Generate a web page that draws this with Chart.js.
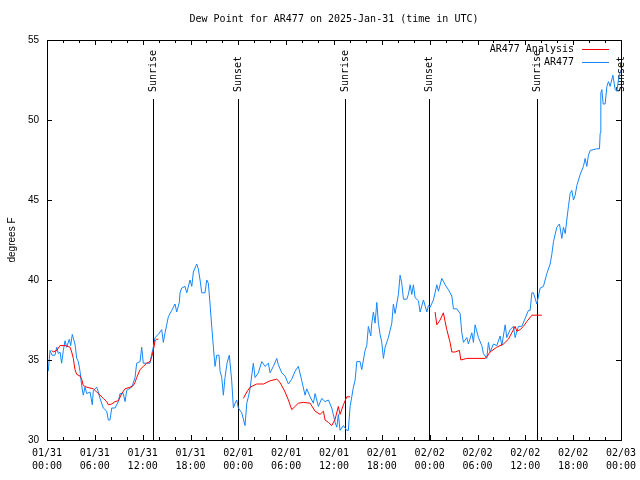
<!DOCTYPE html>
<html>
<head>
<meta charset="utf-8">
<title>Dew Point for AR477</title>
<script src="https://cdn.jsdelivr.net/npm/chart.js@4.4.1/dist/chart.umd.min.js"></script>
<style>
  html, body { margin: 0; padding: 0; background: #fff; }
</style>
</head>
<body>
<canvas id="grafica" width="640" height="480"></canvas>
<script>
// hours since 01/31 00:00 UTC
const obsHours = [0.16,0.38,0.63,1.0,1.22,1.42,1.63,1.84,2.05,2.26,2.47,2.8,2.97,3.17,3.51,3.73,3.93,4.14,4.35,4.55,4.77,4.98,5.4,5.68,5.81,6.24,6.44,6.65,7.06,7.49,7.69,7.9,8.12,8.53,8.95,9.16,9.57,9.79,10.0,10.63,11.04,11.25,11.67,11.88,12.08,12.5,12.92,13.14,13.34,13.55,13.96,14.39,14.59,14.81,15.22,15.65,16.06,16.27,16.6,16.69,16.9,17.31,17.53,17.94,18.16,18.36,18.78,18.98,19.2,19.41,19.82,20.04,20.24,20.45,20.66,20.87,21.08,21.29,21.58,21.71,21.92,22.12,22.33,22.58,22.87,23.17,23.38,23.59,23.8,24.0,24.43,24.84,25.06,25.26,25.47,25.88,26.1,26.51,26.94,27.35,27.77,27.98,28.39,28.82,29.02,29.45,29.86,30.28,30.7,31.12,31.53,31.96,32.37,32.58,33.0,33.41,33.63,34.04,34.47,34.88,35.3,35.72,36.14,36.35,36.55,36.76,37.18,37.6,37.8,38.02,38.23,38.43,38.65,38.86,39.27,39.48,39.9,40.11,40.31,40.61,40.74,40.94,41.15,41.37,41.57,41.78,41.99,42.2,42.41,42.82,43.25,43.45,43.66,44.08,44.29,44.5,44.71,45.13,45.33,45.55,45.76,45.96,46.17,46.59,46.8,47.22,47.65,47.84,48.06,48.47,48.9,49.1,49.52,49.94,50.35,50.78,50.98,51.4,51.82,52.03,52.24,52.66,52.86,53.29,53.49,53.7,54.12,54.54,54.74,55.17,55.37,55.58,56.0,56.42,56.84,57.05,57.47,57.67,58.09,58.51,58.72,59.13,59.56,59.97,60.39,60.6,60.82,61.02,61.44,61.86,62.27,62.7,63.11,63.32,63.53,63.95,64.28,64.58,64.78,65.0,65.2,65.41,65.62,65.83,66.04,66.25,66.46,66.88,67.29,67.5,67.71,67.92,68.13,68.97,69.3,69.39,69.47,69.6,69.76,70.01,70.23,70.43,70.64,70.98,71.27,71.48,71.68,71.9,72.0];
const obsValues = [34.3,35.6,35.3,35.3,35.8,35.4,35.5,34.8,35.6,36.2,35.8,36.3,35.9,36.6,36.0,35.1,34.9,34.3,33.4,32.8,33.3,32.9,33.0,32.2,33.1,33.3,33.0,32.6,32.0,31.8,31.25,31.25,32.0,32.0,32.4,32.9,32.9,32.4,33.1,33.3,33.9,34.8,34.9,35.8,34.8,34.8,34.8,35.4,35.8,36.4,36.6,36.9,36.1,36.7,37.7,38.1,38.5,38.0,38.6,39.2,39.5,39.6,39.2,40.0,39.6,40.5,41.0,40.7,40.0,39.2,39.2,40.0,39.8,38.5,37.1,35.8,34.6,35.3,35.3,34.3,33.9,32.8,33.9,34.8,35.3,33.7,32.0,32.3,32.5,32.0,31.7,30.9,32.3,32.7,33.2,34.8,33.9,34.2,34.9,34.6,34.8,34.2,34.6,35.1,34.7,34.2,34.0,33.5,33.8,34.3,34.6,33.7,32.8,33.2,32.7,32.3,32.9,32.1,32.6,32.4,32.5,32.0,31.1,30.8,31.6,30.6,30.9,30.6,30.6,32.1,32.7,33.3,33.75,34.9,34.9,34.4,35.6,35.9,37.1,36.5,37.3,38.0,37.3,38.6,37.3,36.6,36.1,35.1,35.8,36.4,37.3,38.5,37.9,39.1,40.3,39.8,38.8,38.8,39.1,39.7,39.1,39.7,38.9,38.7,38.0,38.75,38.0,38.4,38.3,38.75,39.7,39.3,40.1,39.7,39.4,39.0,38.2,38.2,37.9,36.7,36.1,36.4,36.0,36.7,36.1,37.2,36.4,35.9,35.4,35.1,36.1,35.5,36.0,35.9,36.5,35.9,37.2,36.4,36.9,37.1,36.4,37.1,37.1,37.6,38.1,38.1,39.2,39.2,38.5,39.5,39.6,40.4,41.0,41.6,42.4,43.3,43.5,42.6,43.3,42.9,43.75,44.6,45.4,45.6,45.0,45.3,45.9,46.6,47.1,47.6,47.1,47.8,48.1,48.2,48.2,49.2,51.7,51.9,51.0,51.0,52.1,52.4,52.1,52.8,51.9,51.8,52.5,53.0,53.1];

// analysis series, null = gap
const anaHours = [0.59,0.79,1.22,1.63,2.26,2.89,3.1,3.3,3.51,3.73,4.14,4.35,4.55,4.98,5.81,6.24,6.65,7.06,7.49,7.69,8.12,8.53,8.95,9.37,9.79,10.41,10.83,11.04,11.25,11.67,12.08,12.5,12.92,13.14,13.34,13.55,13.76,13.96,19.0,24.63,25.06,25.47,26.31,27.15,27.98,28.82,29.23,29.86,30.28,30.7,31.12,31.53,32.16,33.0,33.63,34.25,34.67,34.88,35.3,35.72,36.14,36.55,36.76,37.18,37.6,38.02,43.0,48.68,48.9,49.31,49.72,49.94,50.15,50.56,50.78,51.19,51.73,51.91,52.66,54.95,55.17,55.58,56.42,57.25,57.88,58.51,58.72,58.93,59.35,59.76,60.18,60.82,62.07];
const anaValues = [35.6,35.5,35.6,35.9,35.9,35.8,35.5,35.1,34.4,34.1,34.0,33.8,33.4,33.3,33.2,33.0,32.8,32.6,32.4,32.2,32.25,32.4,32.45,32.9,33.2,33.3,33.4,33.6,33.9,34.4,34.6,34.8,34.9,35.2,35.6,36.2,36.3,36.3,null,32.6,33.0,33.3,33.5,33.5,33.7,33.8,33.6,33.0,32.5,31.9,32.1,32.3,32.35,32.3,31.8,31.6,31.8,31.25,31.1,30.9,31.3,32.1,31.6,32.2,32.7,32.7,null,38.0,37.2,37.5,37.95,37.4,36.9,36.1,35.5,35.5,35.6,35.0,35.1,35.1,35.2,35.5,35.8,36.0,36.3,36.9,37.1,36.8,36.9,37.1,37.4,37.8,37.8];

const sunHours = [13.3, 23.93, 37.43, 47.97, 61.5, 71.98];
const sunLabels = ["Sunrise", "Sunset", "Sunrise", "Sunset", "Sunrise", "Sunset"];

const tickDates = ["01/31","01/31","01/31","01/31","02/01","02/01","02/01","02/01","02/02","02/02","02/02","02/02","02/03"];
const tickTimes = ["00:00","06:00","12:00","18:00","00:00","06:00","12:00","18:00","00:00","06:00","12:00","18:00","00:00"];

const MONO = "'DejaVu Sans Mono', monospace";
const SANS = "'Liberation Sans', Arial, sans-serif";
const RED = "#ff0000";
const BLUE = "#1486ff";

const ctx = document.getElementById("grafica");

function puntos(horas, valores) {
    return horas.map((h, i) => ({ x: h, y: valores[i] }));
}

// lineas de amanecer/atardecer, marco, ticks hacia adentro y leyenda
const decor = {
    id: "decor",
    beforeDatasetsDraw(chart) {
        const c = chart.ctx;
        const a = chart.chartArea;
        const xs = chart.scales.x;
        c.save();
        c.strokeStyle = "#000";
        c.lineWidth = 1;
        c.fillStyle = "#000";
        c.font = "10px " + MONO;
        sunHours.forEach((h, i) => {
            const x = Math.round(xs.getPixelForValue(h)) + 0.5;
            c.beginPath();
            c.moveTo(x, a.top + 59);
            c.lineTo(x, a.bottom);
            c.stroke();
            c.save();
            c.translate(x, a.top + 52);
            c.rotate(-Math.PI / 2);
            c.textAlign = "left";
            c.textBaseline = "middle";
            c.fillText(sunLabels[i], 0, 0);
            c.restore();
        });
        c.restore();
    },
    afterDraw(chart) {
        const c = chart.ctx;
        const a = chart.chartArea;
        const xs = chart.scales.x;
        const ys = chart.scales.y;
        c.save();
        c.strokeStyle = "#000";
        c.lineWidth = 1;
        c.strokeRect(a.left + 0.5, a.top + 0.5, a.right - a.left, a.bottom - a.top);

        c.beginPath();
        for (let h = 0; h <= 72; h += 2) {
            const x = Math.round(xs.getPixelForValue(h)) + 0.5;
            const len = h % 6 === 0 ? 5 : 3;
            c.moveTo(x, a.bottom); c.lineTo(x, a.bottom - len);
            c.moveTo(x, a.top); c.lineTo(x, a.top + len);
        }
        for (let v = 30; v <= 55; v += 5) {
            const y = Math.round(ys.getPixelForValue(v)) + 0.5;
            c.moveTo(a.left, y); c.lineTo(a.left + 5, y);
            c.moveTo(a.right, y); c.lineTo(a.right - 5, y);
        }
        c.stroke();

        // leyenda
        const items = [
            { label: "AR477 Analysis", color: RED },
            { label: "AR477", color: BLUE }
        ];
        c.font = "10px " + MONO;
        c.textAlign = "right";
        c.textBaseline = "middle";
        items.forEach((it, i) => {
            const y = a.top + 9 + i * 13;
            c.fillStyle = "#000";
            c.fillText(it.label, a.right - 47, y);
            c.strokeStyle = it.color;
            c.beginPath();
            c.moveTo(a.right - 39, y + 0.5);
            c.lineTo(a.right - 12, y + 0.5);
            c.stroke();
        });
        c.restore();
    }
};

new Chart(ctx, {
    type: "line",
    data: {
        datasets: [
            {
                label: "AR477 Analysis",
                data: puntos(anaHours, anaValues),
                borderColor: RED,
                borderWidth: 1,
                pointRadius: 0,
                spanGaps: false
            },
            {
                label: "AR477",
                data: puntos(obsHours, obsValues),
                borderColor: BLUE,
                borderWidth: 1,
                pointRadius: 0
            }
        ]
    },
    options: {
        responsive: false,
        animation: false,
        layout: { padding: { top: 0, right: 19, left: 0, bottom: 0 } },
        plugins: {
            legend: { display: false },
            tooltip: { enabled: false },
            title: {
                display: true,
                fullSize: false,
                text: "Dew Point for AR477 on 2025-Jan-31 (time in UTC)",
                color: "#000",
                font: { family: MONO, size: 10, weight: "normal" },
                padding: { top: 13, bottom: 15 }
            }
        },
        scales: {
            x: {
                type: "linear",
                min: 0,
                max: 72,
                afterFit: (s) => {
                    s.height = 40;
                    s.paddingLeft = 0;
                    s.paddingRight = 0;
                },
                grid: { display: false, drawTicks: false },
                border: { display: false },
                ticks: {
                    stepSize: 6,
                    autoSkip: false,
                    maxRotation: 0,
                    padding: 7,
                    color: "#000",
                    font: { family: MONO, size: 10, lineHeight: 1.3 },
                    callback: (v) => {
                        const i = Math.round(v / 6);
                        return [tickDates[i], tickTimes[i]];
                    }
                }
            },
            y: {
                min: 30,
                max: 55,
                afterFit: (s) => { s.width = 47; },
                grid: { display: false, drawTicks: false },
                border: { display: false },
                ticks: {
                    stepSize: 5,
                    padding: 8,
                    color: "#000",
                    font: { family: SANS, size: 10 }
                },
                title: {
                    display: true,
                    text: "degrees F",
                    color: "#000",
                    font: { family: SANS, size: 10 },
                    padding: { top: 6, bottom: 0 }
                }
            }
        }
    },
    plugins: [decor]
});
</script>
</body>
</html>
